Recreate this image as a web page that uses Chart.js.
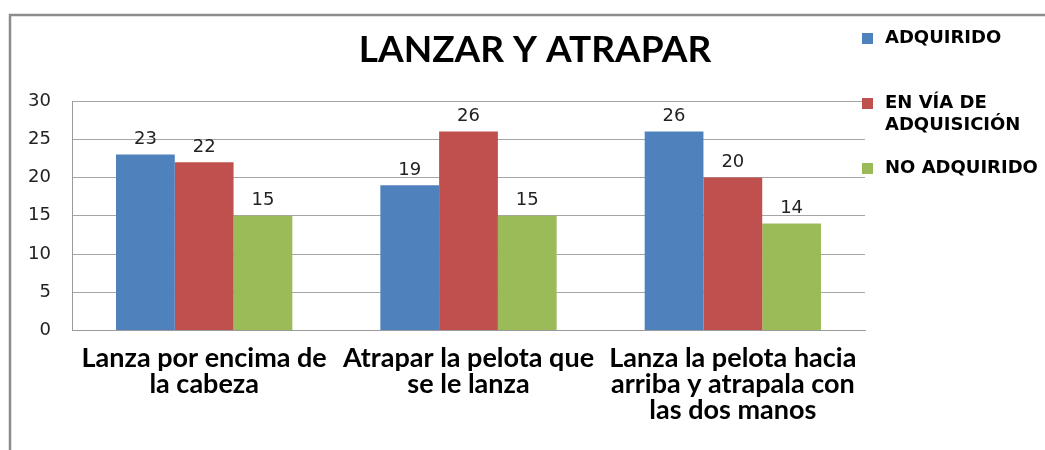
<!DOCTYPE html>
<html>
<head>
<meta charset="utf-8">
<script src="https://cdn.jsdelivr.net/npm/chart.js@4/dist/chart.umd.min.js"></script>
<style>
	html, body { margin: 0; padding: 0; background: #fff; }
	#wrap { width: 1045px; height: 450px; }
</style>
</head>
<body>
<div id="wrap"><canvas id="chart" width="1045" height="450"></canvas></div>
<script>
const chartTitle = 'LANZAR Y ATRAPAR';
const categories = [
	['Lanza por encima de', 'la cabeza'],
	['Atrapar la pelota que', 'se le lanza'],
	['Lanza la pelota hacia', 'arriba y atrapala con', 'las dos manos']
];
const seriesNames = ['ADQUIRIDO', 'EN VÍA DE ADQUISICIÓN', 'NO ADQUIRIDO'];
const adquirido = [23, 19, 26];
const enViaDeAdquisicion = [22, 26, 20];
const noAdquirido = [15, 15, 14];
const yMin = 0;
const yMax = 30;
const yStep = 5;

const colors = ['#4f81bd', '#c0504d', '#9bbb59'];

// frame, title, legend and value labels drawn by hand like the office chart
const decorations = {
	id: 'decorations',
	beforeDraw(chart) {
		let ctx = chart.ctx;
		ctx.save();
		ctx.strokeStyle = '#8c8c8c';
		ctx.lineWidth = 2.5;
		ctx.beginPath();
		ctx.moveTo(10, 450);
		ctx.lineTo(10, 15);
		ctx.lineTo(1045, 15);
		ctx.stroke();
		ctx.restore();
	},
	afterDatasetsDraw(chart) {
		let ctx = chart.ctx;
		ctx.save();
		ctx.font = '18px "DejaVu Sans"';
		ctx.fillStyle = '#222';
		ctx.textAlign = 'center';
		ctx.textBaseline = 'middle';
		chart.data.datasets.forEach((ds, i) => {
			chart.getDatasetMeta(i).data.forEach((bar, j) => {
				ctx.fillText(ds.data[j], bar.x, bar.y - 15);
			});
		});
		ctx.restore();
	},
	afterDraw(chart) {
		let ctx = chart.ctx;
		ctx.save();
		ctx.fillStyle = '#000';
		ctx.font = 'bold 37px Lato';
		ctx.textAlign = 'center';
		ctx.textBaseline = 'middle';
		ctx.fillText(chartTitle, 535, 50);

		ctx.font = 'bold 18px "DejaVu Sans"';
		ctx.textAlign = 'left';
		chart.data.datasets.forEach((ds, i) => {
			let y = 38 + i * 65;
			ctx.fillStyle = ds.backgroundColor;
			ctx.fillRect(862, y - 5, 11, 11);
			ctx.fillStyle = '#000';
			let lines = wrap(ctx, ds.label, 165);
			lines.forEach((line, k) => ctx.fillText(line, 885, y + k * 22));
		});
		ctx.restore();
	}
};

function wrap(ctx, text, maxWidth) {
	let words = text.split(' ');
	let lines = [];
	let cur = '';
	for (let w of words) {
		let test = cur ? cur + ' ' + w : w;
		if (cur && ctx.measureText(test).width > maxWidth) {
			lines.push(cur);
			cur = w;
		} else {
			cur = test;
		}
	}
	lines.push(cur);
	return lines;
}

function createChart(ctx) {
	let series = [adquirido, enViaDeAdquisicion, noAdquirido];
	return new Chart(ctx, {
		type: 'bar',
		data: {
			labels: categories,
			datasets: series.map((data, i) => ({
				label: seriesNames[i],
				data: data,
				backgroundColor: colors[i],
				borderWidth: 0,
				categoryPercentage: 0.667,
				barPercentage: 1.0
			}))
		},
		options: {
			responsive: false,
			animation: false,
			layout: { padding: { left: 0, right: 180, top: 101, bottom: 20 } },
			plugins: {
				legend: { display: false },
				title: { display: false },
				tooltip: { enabled: false }
			},
			scales: {
				x: {
					grid: { display: false },
					border: { color: '#9a9a9a', width: 1 },
					ticks: {
						color: '#000',
						font: { family: 'Lato', size: 27, weight: 'bold', lineHeight: 0.98 },
						padding: 6,
						maxRotation: 0,
						autoSkip: false
					}
				},
				y: {
					min: yMin,
					max: yMax,
					afterFit(scale) { scale.width = 72; },
					grid: { color: '#a6a6a6', lineWidth: 1, drawTicks: false },
					border: { color: '#9a9a9a', width: 1 },
					ticks: {
						stepSize: yStep,
						color: '#222',
						padding: 21,
						font: { family: 'DejaVu Sans', size: 18 }
					}
				}
			}
		},
		plugins: [decorations]
	});
}

let chart;
document.addEventListener('DOMContentLoaded', function(event) {
	let ctx = document.getElementById('chart').getContext('2d');
	chart = createChart(ctx);
});
</script>
</body>
</html>
